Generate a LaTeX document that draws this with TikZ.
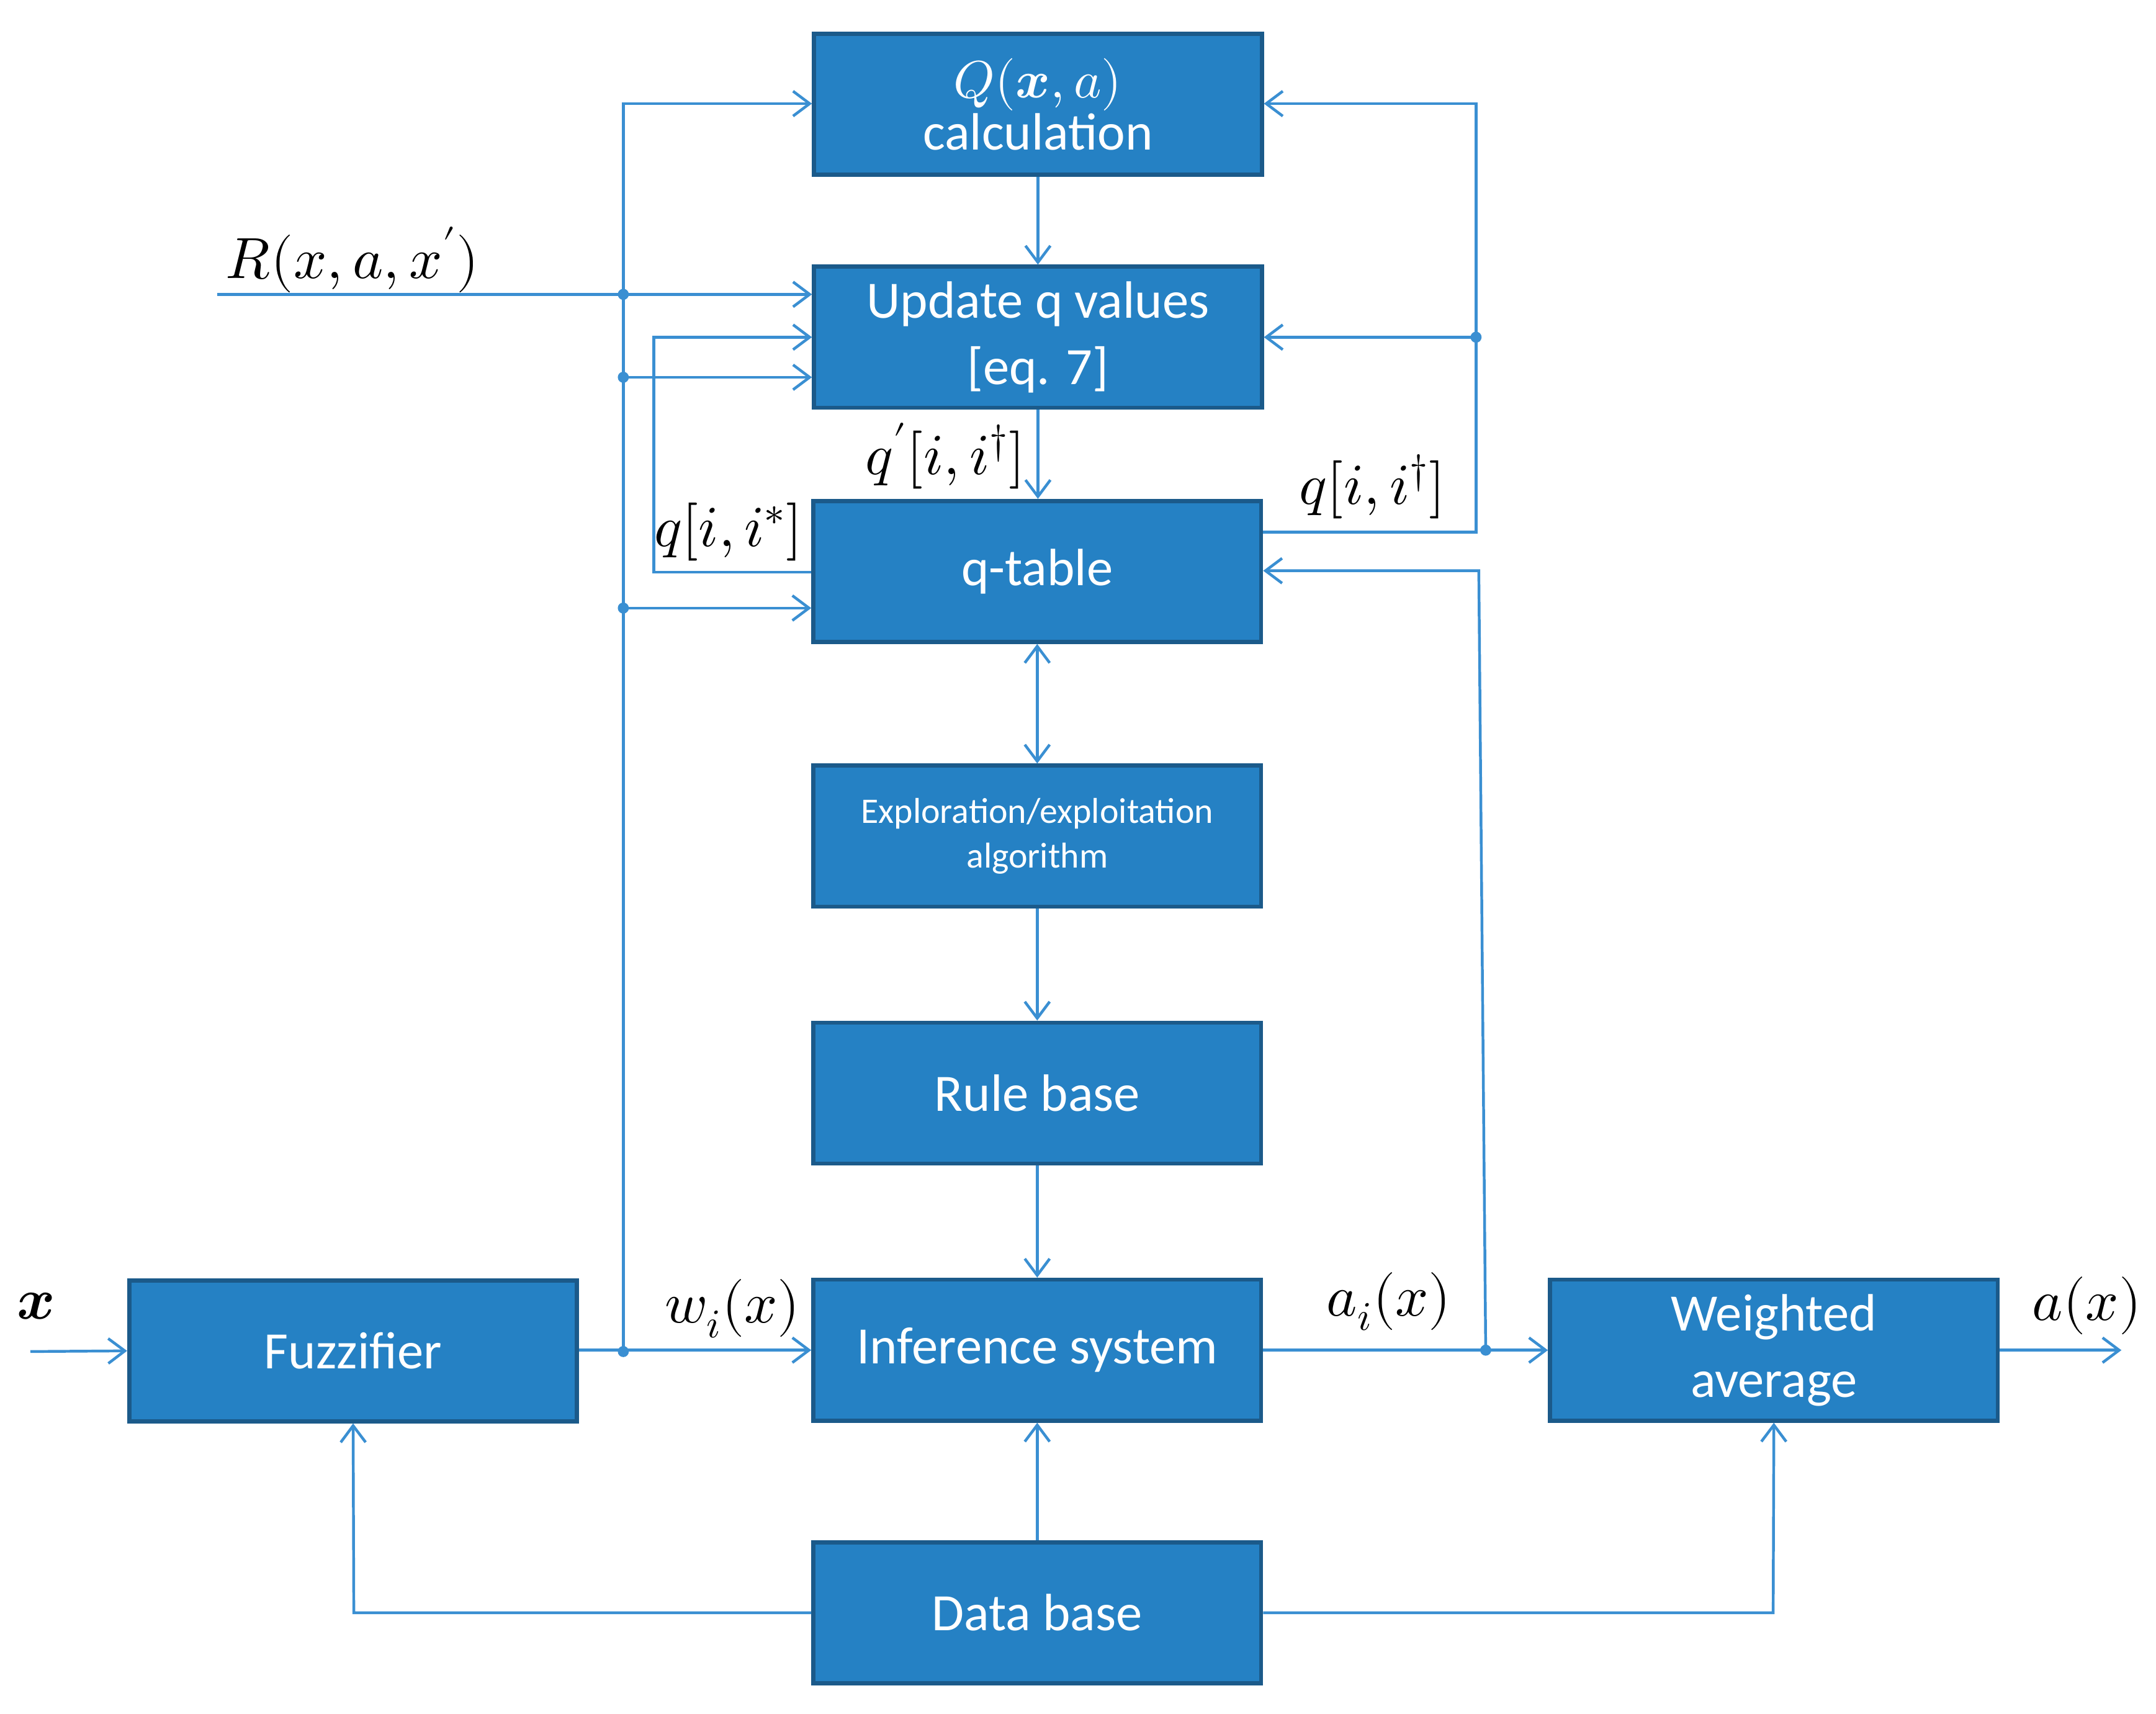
\documentclass[tikz,border=0pt]{standalone}
\usepackage{fontspec}
\usepackage{unicode-math}
\setmainfont{Carlito}
\setmathfont{Latin Modern Math}
\usetikzlibrary{arrows.meta}
\definecolor{boxfill}{HTML}{2581C4}
\definecolor{boxline}{HTML}{1B5A8A}
\definecolor{wire}{HTML}{3A8FD2}
\begin{document}
\begin{tikzpicture}[x=0.5pt,y=-0.5pt,
  blk/.style={draw=boxline,line width=1.5pt,fill=boxfill,text=white,minimum width=162pt,minimum height=51pt,inner sep=0pt,align=center,font=\fontsize{19}{24}\selectfont},
  w/.style={draw=wire,line width=1pt},
  a/.style={w,-{Straight Barb[length=6pt,width=9pt]}},
  dot/.style={circle,fill=wire,inner sep=0pt,minimum size=4pt},
  lab/.style={font=\fontsize{21}{24}\selectfont,inner sep=0pt}]
\useasboundingbox (0,0) rectangle (1560,1240);
\node[blk] (Q) at (751,75.5) {$Q(\symbfit{x},a)$\\[-5pt]calculation};
\node[blk] (U) at (751,244) {Update q values\\{[eq. 7]}};
\node[blk] (T) at (750.5,413.5) {q-table};
\node[blk,font=\fontsize{13}{16}\selectfont] (E) at (750.5,605) {Exploration/exploitation\\algorithm};
\node[blk] (R) at (750.5,791) {Rule base};
\node[blk] (I) at (750.5,977) {Inference system};
\node[blk] (D) at (750.5,1167) {Data base};
\node[blk] (F) at (255.5,977.5) {Fuzzifier};
\node[blk] (W) at (1283.5,977) {Weighted\\average};
\coordinate (xin) at (22,978);
\coordinate (rin) at (157,213);
\coordinate (yout) at (1535,977);
\node[dot] (d1) at (451,978) {};
\node[dot] (d2) at (451,213) {};
\node[dot] (d3) at (451,273) {};
\node[dot] (d4) at (451,440) {};
\node[dot] (d5) at (1068,244) {};
\node[dot] (d6) at (1075,977) {};
\draw[a] (xin) -- (F.west);
\draw[a] (F.east|-I) -- (I.west);
\draw[a] (d1.center) -- (451,75) -- (Q.west|-0,75);
\draw[a] (rin) -- (U.west|-rin);
\draw[a] (d3.center) -- (U.west|-d3);
\draw[a] (d4.center) -- (T.west|-d4);
\draw[a] (T.west|-0,414) -- (473,414) -- (473,244) -- (U.west|-0,244);
\draw[a] (Q) -- (U);
\draw[a] (U.south-|751,0) -- (T.north-|751,0);
\draw[w,{Straight Barb[length=6pt,width=9pt]}-{Straight Barb[length=6pt,width=9pt]}] (T) -- (E);
\draw[a] (E) -- (R);
\draw[a] (R) -- (I);
\draw[a] (D) -- (I);
\draw[a] (T.east|-0,385) -- (1068,385) -- (1068,75) -- (Q.east|-0,75);
\draw[a] (d5.center) -- (U.east|-d5);
\draw[a] (I.east) -- (W.west);
\draw[a] (d6.center) -- (1070,413) -- (T.east|-0,413);
\draw[a] (W.east) -- (yout);
\draw[a] (D.west) -- (256,1167) -- (F.south);
\draw[a] (D.east) -- (1283,1167) -- (W.south);
\node[lab] (lx) at (26,945) {$\symbfit{x}$};
\node[lab] (lr) at (255,188) {$R(x,a,x')$};
\node[lab] (lqs) at (527,385) {$q[i,i^*]$};
\node[lab] (lqp) at (684,330) {$q'[i,i^\dagger]$};
\node[lab] (lqd) at (993,352) {$q[i,i^\dagger]$};
\node[lab] (lw) at (530,947) {$w_i(x)$};
\node[lab] (lai) at (1005,942) {$a_i(x)$};
\node[lab] (lao) at (1510,945) {$a(x)$};
\end{tikzpicture}
\end{document}
